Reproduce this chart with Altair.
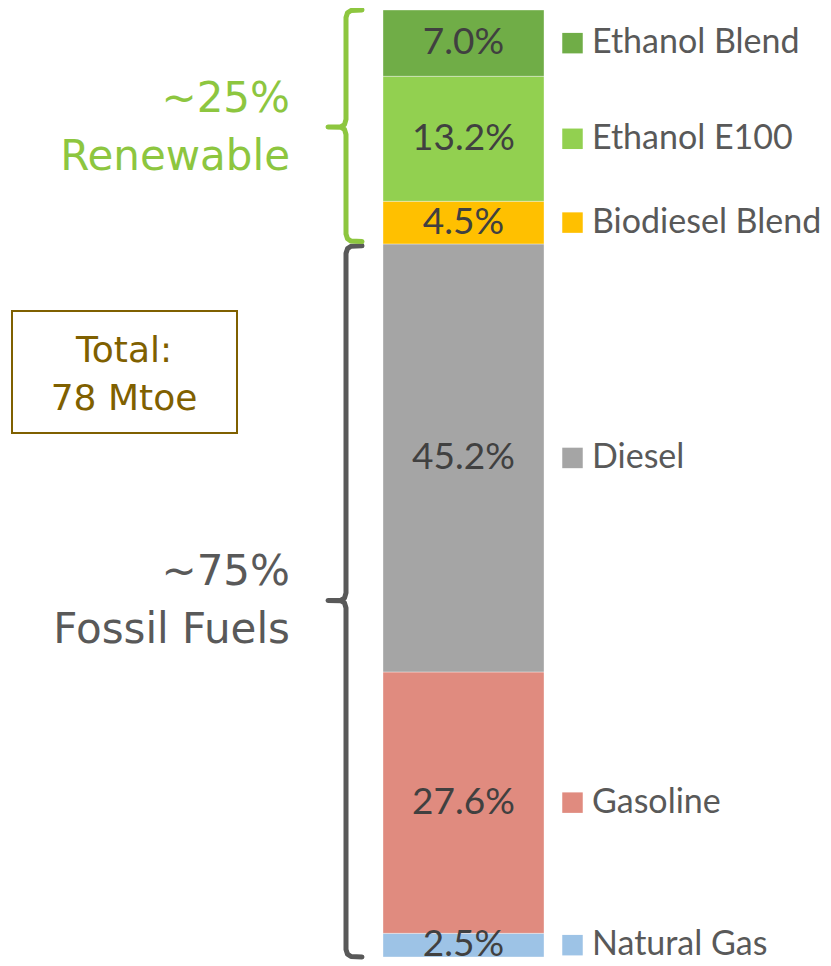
import altair as alt
import pandas as pd

# ---- data ----
categories = ["Natural Gas", "Gasoline", "Diesel", "Biodiesel Blend", "Ethanol E100", "Ethanol Blend"]
shares = [2.5, 27.6, 45.2, 4.5, 13.2, 7.0]
colors = ["#9DC3E6", "#E08B7F", "#A5A5A5", "#FFC000", "#92D050", "#70AD47"]

group_names = ["Fossil Fuels", "Renewable"]
group_labels = ["~75%\nFossil Fuels", "~25%\nRenewable"]
group_sizes = [3, 3]
group_colors = ["#595959", "#8DC63F"]
total_label = "Total:\n78 Mtoe"

# ---- tables ----
rows = []
cum = 0.0
for c, s in zip(categories, shares):
    rows.append({"cat": c, "start": cum, "end": cum + s, "mid": cum + s / 2, "label": f"{s:.1f}%"})
    cum += s
bars = pd.DataFrame(rows)

grows = []
brace_rows = []
idx = 0
for g, lab, n in zip(group_names, group_labels, group_sizes):
    lo = bars["start"].iloc[idx]
    hi = bars["end"].iloc[idx + n - 1]
    idx += n
    mid = (lo + hi) / 2
    grows.append({"group": g, "label": lab, "mid": mid})
    top = hi - 0.2 if g == "Fossil Fuels" else hi
    bot = lo + 0.25 if g == "Renewable" else lo
    xr, xs, xt = 354, 338, 320
    pts = [
        (xr, top), (xs + 5, top - 0.05), (xs + 1.5, top - 0.3), (xs, top - 0.8),
        (xs, mid + 0.8), (xs - 1.5, mid + 0.25), (xs - 5, mid + 0.03), (xt, mid),
        (xs - 5, mid - 0.03), (xs - 1.5, mid - 0.25), (xs, mid - 0.8),
        (xs, bot + 0.8), (xs + 1.5, bot + 0.3), (xs + 5, bot + 0.05), (xr, bot),
    ]
    for i, (px, py) in enumerate(pts):
        brace_rows.append({"group": g, "order": i, "x": px, "y": py})
groups = pd.DataFrame(grows)
braces = pd.DataFrame(brace_rows)

yscale = alt.Scale(domain=[0, 100], nice=False, zero=False)
xscale = alt.Scale(domain=[0, 815], nice=False, zero=False)
cat_color = alt.Scale(domain=categories, range=colors)
grp_color = alt.Scale(domain=group_names, range=group_colors)

bar = alt.Chart(bars).mark_bar(stroke="white", strokeWidth=0.6, strokeOpacity=0.6).encode(
    x=alt.value(375), x2=alt.value(536),
    y=alt.Y("start:Q", scale=yscale, axis=None), y2="end:Q",
    color=alt.Color("cat:N", scale=cat_color, legend=None),
)

seg_text = alt.Chart(bars).mark_text(font="Lato", fontSize=37, color="#404040", baseline="middle").encode(
    x=alt.value(455.5),
    y=alt.Y("mid:Q", scale=yscale, axis=None),
    text="label:N",
)

leg_sq = alt.Chart(bars).mark_square(size=420, opacity=1, filled=True).encode(
    x=alt.value(564.5),
    y=alt.Y("mid:Q", scale=yscale, axis=None),
    color=alt.Color("cat:N", scale=cat_color, legend=None),
)

leg_text = alt.Chart(bars).mark_text(font="Lato", fontSize=34, color="#595959", align="left", baseline="middle").encode(
    x=alt.value(584),
    y=alt.Y("mid:Q", scale=yscale, axis=None),
    text="cat:N",
)

brace = alt.Chart(braces).mark_line(strokeWidth=5, strokeCap="round", strokeJoin="round").encode(
    x=alt.X("x:Q", scale=xscale, axis=None),
    y=alt.Y("y:Q", scale=yscale, axis=None),
    order="order:Q",
    detail="group:N",
    stroke=alt.Stroke("group:N", scale=grp_color, legend=None),
)

grp_text = alt.Chart(groups).mark_text(
    font="DejaVu Sans", fontSize=42, lineHeight=58, lineBreak="\n", align="right", baseline="middle", dy=-28
).encode(
    x=alt.value(282),
    y=alt.Y("mid:Q", scale=yscale, axis=None),
    text="label:N",
    fill=alt.Fill("group:N", scale=grp_color, legend=None),
)

total_df = pd.DataFrame({"label": [total_label]})
box = alt.Chart(total_df).mark_rect(fill="white", stroke="#7F6000", strokeWidth=2).encode(
    x=alt.value(4), x2=alt.value(229), y=alt.value(301), y2=alt.value(423),
)
total_text = alt.Chart(total_df).mark_text(
    font="DejaVu Sans", fontSize=36, lineHeight=48, lineBreak="\n", color="#7F6000", baseline="middle"
).encode(
    x=alt.value(116), y=alt.value(341), text="label:N",
)

chart = alt.layer(bar, seg_text, leg_sq, leg_text, brace, grp_text, box, total_text).properties(
    width=815, height=947,
    autosize=alt.AutoSizeParams(type="none"),
    padding={"left": 0, "top": 2, "right": 0, "bottom": 6},
    background="white",
).configure_view(stroke=None)

chart.save("out.html", embed_options={"renderer": "svg", "actions": False})
